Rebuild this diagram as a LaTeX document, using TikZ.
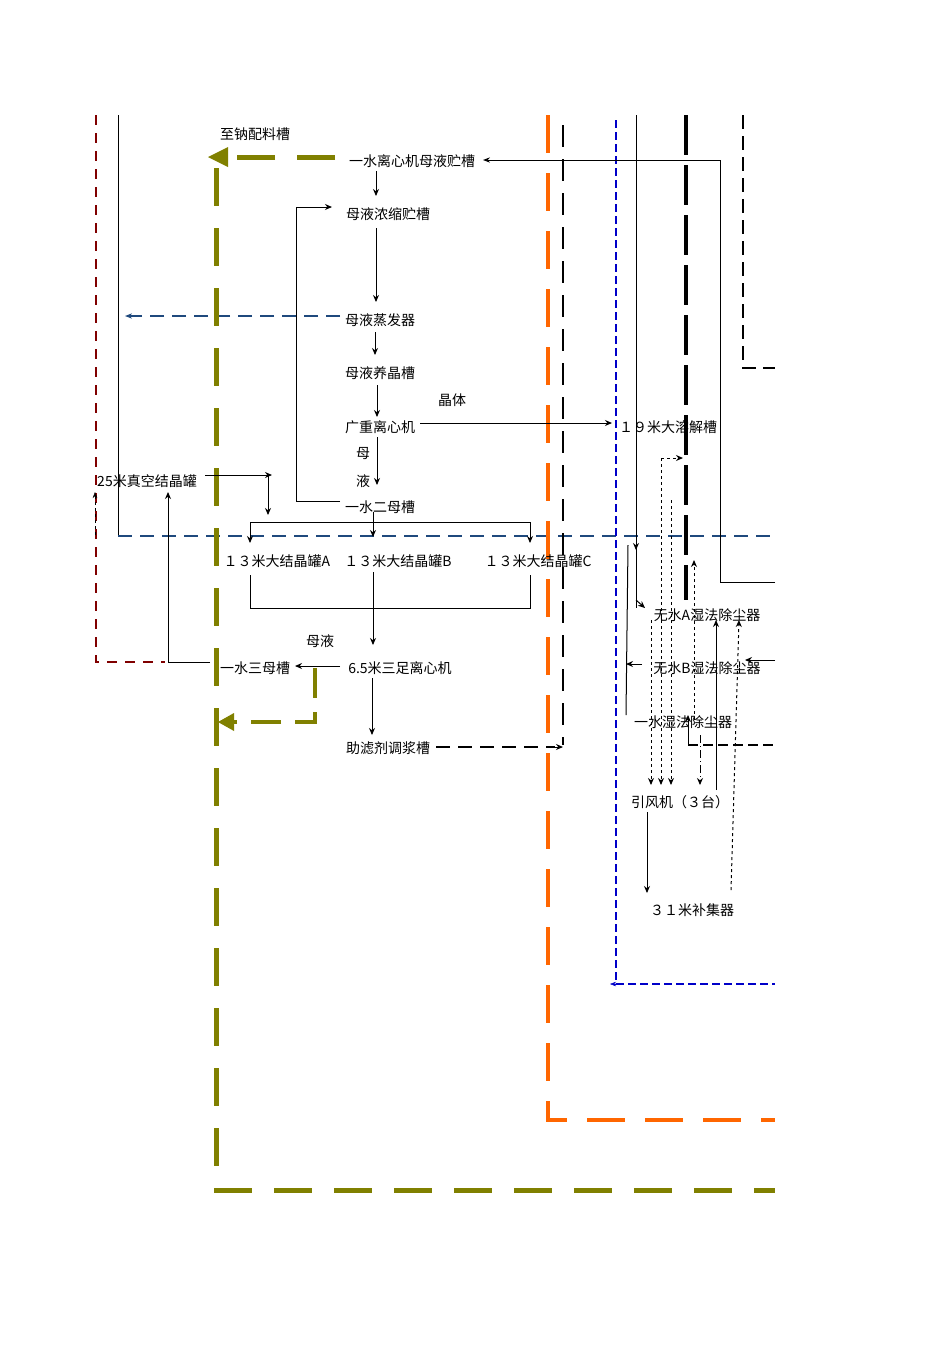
\documentclass[tikz,border=0pt]{standalone}
\usepackage{fontspec}
\setmainfont{Noto Sans CJK SC}
\usetikzlibrary{arrows.meta}
\definecolor{oliv}{RGB}{128,128,0}
\definecolor{orng}{RGB}{255,102,0}
\definecolor{dred}{RGB}{128,0,0}
\definecolor{navy}{RGB}{31,73,125}
\definecolor{blu}{RGB}{0,0,200}
\begin{document}
\begin{tikzpicture}[x=1pt,y=-1pt,
  lbl/.style={inner sep=0pt,font=\fontsize{14}{15}\selectfont},
  ar/.style={-{Stealth[length=7pt,width=6pt]},line width=1pt},
  ln/.style={line width=1pt},
  olive/.style={line width=5pt,draw=oliv,dash pattern=on 38pt off 22pt},
  orng/.style={line width=4pt,draw=orng,dash pattern=on 38pt off 20pt}]
\useasboundingbox (0,0) rectangle (950,1345);
% background lines
\draw[line width=2pt,draw=dred,dash pattern=on 10pt off 8pt] (96,115) -- (96,662) -- (165,662);
\draw[ln] (118,115) -- (118,535);
\draw[line width=1.5pt,draw=navy,dash pattern=on 14pt off 8pt] (118,536) -- (775,536);
\draw[line width=1.5pt,draw=navy,dash pattern=on 14pt off 8pt,-{Stealth[length=7pt]}] (340,316) -- (125,316);
\coordinate (oa) at (335,157); \coordinate (ob) at (226,157);
\draw[olive] (oa) -- (ob);
\fill[oliv] (208,157) -- (228,147) -- (228,167) -- cycle;
\draw[olive] (216,168) -- (216,1190) -- (775,1190);
\draw[line width=4pt,draw=oliv,dash pattern=on 30pt off 14pt] (315,668) -- (315,722) -- (228,722);
\fill[oliv] (218,722) -- (234,713) -- (234,731) -- cycle;
\draw[orng] (548,115) -- (548,1120) -- (775,1120);
\draw[line width=2.5pt,dash pattern=on 22pt off 12pt] (563,125) -- (563,745);
\draw[line width=1.2pt,draw=blu,dash pattern=on 8pt off 4pt] (616,120) -- (616,984) -- (775,984);
\draw[-{Stealth[length=6pt]},blu] (616,984) -- (610,984);
\draw[ln] (636,115) -- (636,608);
\draw[line width=3.5pt,dash pattern=on 40pt off 10pt] (686,115) -- (686,600);
\draw[line width=1.3pt,dash pattern=on 14pt off 7pt] (743,115) -- (743,368) -- (775,368);
% nodes
\node[lbl] (zn) at (255,134) {至钠配料槽};
\node[lbl] (m1) at (412,161) {一水离心机母液贮槽};
\node[lbl] (m2) at (388,214) {母液浓缩贮槽};
\node[lbl] (m3) at (380,320) {母液蒸发器};
\node[lbl] (m4) at (380,373) {母液养晶槽};
\node[lbl] (jt) at (452,400) {晶体};
\node[lbl] (m5) at (380,427) {广重离心机};
\node[lbl] (mu) at (363,454) {母};
\node[lbl] (ye) at (363,481) {液};
\node[lbl] (m6) at (380,507) {一水二母槽};
\node[lbl] (v25) at (147,481) {25米真空结晶罐};
\node[lbl] (ta) at (277,561) {１３米大结晶罐A};
\node[lbl] (tb) at (398,561) {１３米大结晶罐B};
\node[lbl] (tc) at (538,561) {１３米大结晶罐C};
\node[lbl] (my) at (320,641) {母液};
\node[lbl] (m7) at (255,668) {一水三母槽};
\node[lbl] (c65) at (400,668) {6.5米三足离心机};
\node[lbl] (zl) at (388,748) {助滤剂调浆槽};
\node[lbl] (r19) at (668,427) {１９米大溶解槽};
\node[lbl] (wa) at (707,615) {无水A湿法除尘器};
\node[lbl] (wb) at (707,668) {无水B湿法除尘器};
\node[lbl] (ws) at (683,722) {一水湿法除尘器};
\node[lbl] (yf) at (680,802) {引风机（３台）};
\node[lbl] (b31) at (692,910) {３１米补集器};
% connectors
\draw[ln,-{Stealth[length=7pt]}] (775,582) -- (720,582) -- (720,160) -- (483,160);
\draw[line width=2.5pt,dash pattern=on 14pt off 8pt] (436,747) -- (555,747);
\draw[ar] (554,747) -- (563,747);
\draw[ar] (376,171) -- (376,196);
\draw[ar] (376,228) -- (376,302);
\draw[ar] (375,332) -- (375,355);
\draw[ar] (377,385) -- (377,417);
\draw[ar] (377,437) -- (377,485);
\draw[ar] (420,423) -- (612,423);
\draw[ar] (340,501) -- (296,501) -- (296,207) -- (332,207);
\draw[ar] (205,475) -- (272,475);
\draw[ar] (268,475) -- (268,515);
\draw[ln] (250,522) -- (530,522);
\draw[ar] (373,512) -- (373,537);
\draw[ar] (250,522) -- (250,543);
\draw[ar] (530,522) -- (530,543);
\draw[ln] (250,575) -- (250,608) -- (530,608) -- (530,575);
\draw[ar] (373,572) -- (373,645);
\draw[ar] (340,666) -- (295,666);
\draw[ar] (372,678) -- (372,735);
\draw[ar] (210,662) -- (168,662) -- (168,492);
\draw[-{Stealth[length=6pt]},dashed] (95,535) -- (95,492);
% right cluster
\draw[ar] (636,540) -- (636,550);
\draw[ar] (636,600) -- (645,608);
\draw[ln] (628,545) -- (626,715);
\draw[ar] (642,664) -- (626,664);
\draw[ar,dashed] (661,458) -- (683,458);
\draw[ar,dashed] (661,458) -- (661,785);
\draw[ar,dashed] (651,620) -- (651,785);
\draw[ar,dashed] (671,500) -- (671,785);
\draw[ar,dash pattern=on 8pt off 3pt on 1pt off 3pt] (700,735) -- (700,785);
\draw[ar,dashed] (694,720) -- (694,560);
\draw[ar] (716,790) -- (716,620);
\draw[ar,dashed] (731,890) -- (739,620);
\draw[ar] (775,660) -- (745,660);
\draw[ar] (688,745) -- (688,715);
\draw[line width=1.3pt,dash pattern=on 10pt off 5pt] (688,745) -- (775,745);
\draw[ar] (647,812) -- (647,893);
\end{tikzpicture}
\end{document}
